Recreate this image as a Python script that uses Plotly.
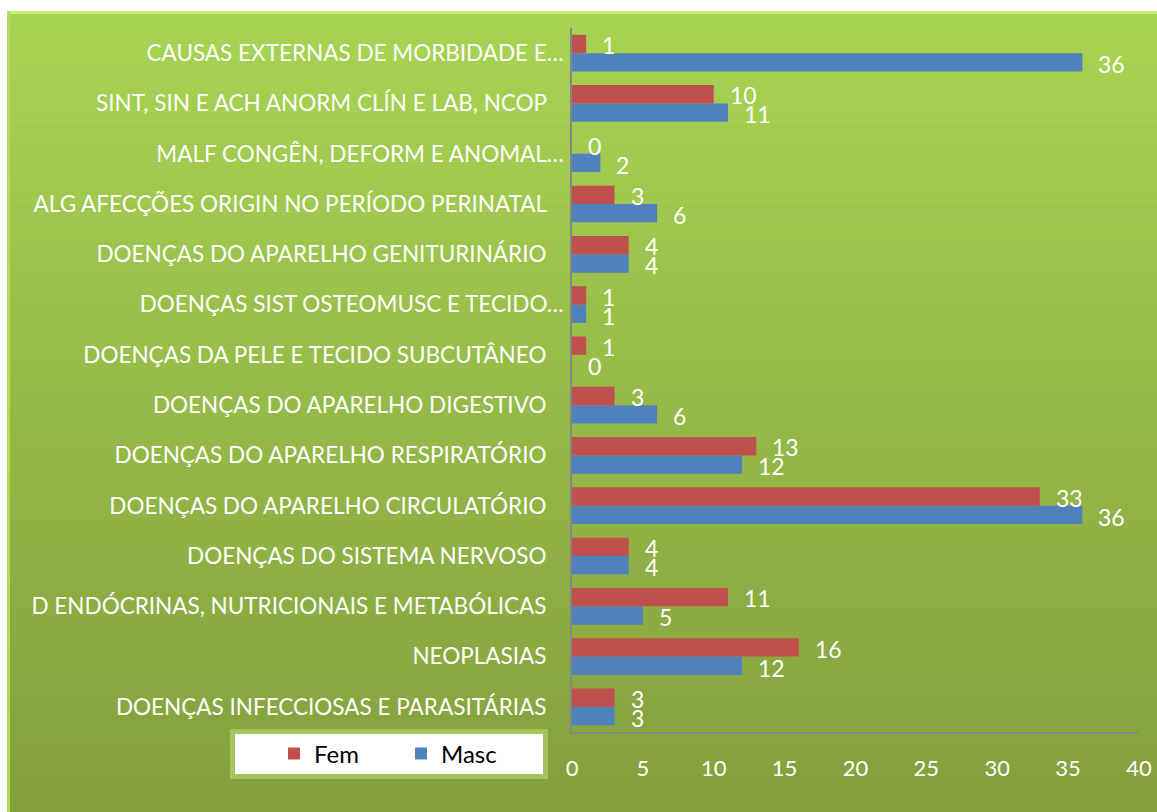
import plotly.graph_objects as go

# ---- data (bottom to top, as drawn on the category axis) ----
categories = [
    "DOENÇAS INFECCIOSAS E PARASITÁRIAS",
    "NEOPLASIAS",
    "D ENDÓCRINAS, NUTRICIONAIS E METABÓLICAS",
    "DOENÇAS DO SISTEMA NERVOSO",
    "DOENÇAS DO APARELHO CIRCULATÓRIO",
    "DOENÇAS DO APARELHO RESPIRATÓRIO",
    "DOENÇAS DO APARELHO DIGESTIVO",
    "DOENÇAS DA PELE E TECIDO SUBCUTÂNEO",
    "DOENÇAS SIST OSTEOMUSC E TECIDO…",
    "DOENÇAS DO APARELHO GENITURINÁRIO",
    "ALG AFECÇÕES ORIGIN NO PERÍODO PERINATAL",
    "MALF CONGÊN, DEFORM E ANOMAL…",
    "SINT, SIN E ACH ANORM CLÍN E LAB, NCOP",
    "CAUSAS EXTERNAS DE MORBIDADE E…",
]
fem = [3, 16, 11, 4, 33, 13, 3, 1, 1, 4, 3, 0, 10, 1]
masc = [3, 12, 5, 4, 36, 12, 6, 0, 1, 4, 6, 2, 11, 36]
x_ticks = [0, 5, 10, 15, 20, 25, 30, 35, 40]

# ---- layout geometry (pixels) ----
W, H = 1157, 812
ML, MR, MT, MB = 572, 18, 28, 80
PW, PH = W - ML - MR, H - MT - MB

def px(x):
    return (x - ML) / PW

def py(y):
    return (H - MB - y) / PH

FONT = "Lato"
FEM_C = "#C0504D"
MASC_C = "#4F81BD"

fig = go.Figure()
fig.add_trace(go.Bar(y=categories, x=masc, orientation="h", name="Masc",
                     marker=dict(color=MASC_C, line=dict(width=0))))
fig.add_trace(go.Bar(y=categories, x=fem, orientation="h", name="Fem",
                     marker=dict(color=FEM_C, line=dict(width=0))))

# data labels
annotations = []
for cat, f, m in zip(categories, fem, masc):
    annotations.append(dict(x=f, y=cat, xref="x", yref="y", text=str(f),
                            showarrow=False, xanchor="left", yanchor="middle",
                            xshift=14, yshift=8,
                            font=dict(family=FONT, size=23, color="white")))
    annotations.append(dict(x=m, y=cat, xref="x", yref="y", text=str(m),
                            showarrow=False, xanchor="left", yanchor="middle",
                            xshift=14, yshift=-11,
                            font=dict(family=FONT, size=23, color="white")))

# background gradient frame
shapes = []
top_c = (168, 212, 82)
bot_c = (131, 159, 61)
y_top, y_bot = 11, 812
N = 80
for i in range(N):
    t = (i + 0.5) / N
    c = tuple(round(a + (b - a) * t) for a, b in zip(top_c, bot_c))
    y0 = y_top + (y_bot - y_top) * i / N
    y1 = y_top + (y_bot - y_top) * (i + 1) / N + 0.6
    shapes.append(dict(type="rect", xref="paper", yref="paper",
                       x0=px(7), x1=px(W + 2), y0=py(y0), y1=py(y1),
                       fillcolor="rgb(%d,%d,%d)" % c, line=dict(width=0),
                       layer="below"))
# bevel highlights
shapes.append(dict(type="rect", xref="paper", yref="paper",
                   x0=px(7), x1=px(W + 2), y0=py(11), y1=py(14),
                   fillcolor="#C6EE74", line=dict(width=0), layer="below"))
shapes.append(dict(type="rect", xref="paper", yref="paper",
                   x0=px(7), x1=px(10), y0=py(11), y1=py(H + 2),
                   fillcolor="#B3DC5C", line=dict(width=0), layer="below"))
# legend box
shapes.append(dict(type="rect", xref="paper", yref="paper",
                   x0=px(232.5), x1=px(545.5), y0=py(731.5), y1=py(776.5),
                   fillcolor="white", line=dict(color="#A3C55B", width=5),
                   layer="below"))

fig.update_layout(
    width=W, height=H,
    autosize=False,
    margin=dict(l=ML, r=MR, t=MT, b=MB, pad=0, autoexpand=False),
    paper_bgcolor="white",
    plot_bgcolor="rgba(0,0,0,0)",
    barmode="group",
    bargap=0.27,
    bargroupgap=0,
    font=dict(family=FONT, size=22, color="white"),
    showlegend=True,
    legend=dict(orientation="h", traceorder="reversed",
                x=px(274), xanchor="left", y=py(754), yanchor="middle",
                bgcolor="rgba(0,0,0,0)", borderwidth=0,
                entrywidth=82, entrywidthmode="pixels",
                font=dict(family=FONT, size=24, color="black")),
    shapes=shapes,
    annotations=annotations,
)
fig.update_xaxes(range=[0, 40], tickvals=x_ticks, showgrid=False, zeroline=False,
                 showline=True, linecolor="#868686", linewidth=1.5,
                 ticks="", ticklabelstandoff=16, automargin=False,
                 tickfont=dict(family=FONT, size=22, color="white"),
                 fixedrange=True)
ticktext = [c if c.endswith("…") else c + "\u00a0\u00a0\u00a0" for c in categories]
fig.update_yaxes(range=[-0.5, len(categories) - 0.5], showgrid=False, zeroline=False,
                 showline=True, linecolor="#868686", linewidth=1.5,
                 ticks="", ticklabelstandoff=2, automargin=False,
                 tickvals=categories, ticktext=ticktext,
                 tickfont=dict(family=FONT, size=22.5, color="white"),
                 fixedrange=True)

fig.write_html(
    "out.html",
    config={"displayModeBar": False},
    post_script=("document.body.style.margin='0';"
                 "document.documentElement.style.overflow='hidden';"
                 "document.body.style.overflow='hidden';"),
)
